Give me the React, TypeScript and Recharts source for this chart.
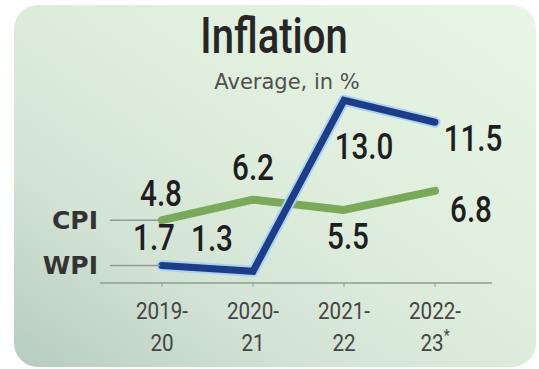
import React from "react";
import { LineChart, Line, XAxis, YAxis, LabelList } from "recharts";

// data
const categories = ["2019-20", "2020-21", "2021-22", "2022-23"];
const tickTop = ["2019-", "2020-", "2021-", "2022-"];
const tickBottom = ["20", "21", "22", "23"];
const provisional = [false, false, false, true];
const cpi = [4.8, 6.2, 5.5, 6.8];
const wpi = [1.7, 1.3, 13.0, 11.5];

const data = categories.map((name, i) => ({ name, cpi: cpi[i], wpi: wpi[i] }));

// label offsets from each point (layout only)
const cpiLabelOffset = [
    [-1, -27],
    [0, -32],
    [4, 26],
    [36, 18],
];
const wpiLabelOffset = [
    [-8, -28],
    [-41, -33],
    [20, 46],
    [38, 16],
];

const GUIDE = "#8e9c92";

const valueLabel = (offsets: number[][]) => (props: any) => {
    const { x, y, value, index } = props;
    const [dx, dy] = offsets[index] || [0, 0];
    return (
        <text
            transform={`translate(${x + dx},${y + dy}) scale(0.8,1)`}
            textAnchor="middle"
            dominantBaseline="central"
            fontFamily="Roboto"
            fontWeight={500}
            fontSize={37}
            fill="#1e1e1e"
        >
            {value.toFixed(1)}
        </text>
    );
};

const seriesTag = (label: string) => (props: any) => {
    const { cx, cy, index } = props;
    if (index !== 0) return <g key={`d-${label}-${index}`} />;
    return (
        <g key={`d-${label}-${index}`}>
            <line x1={cx - 52} y1={cy} x2={cx - 2} y2={cy} stroke={GUIDE} strokeWidth={1.5} />
            <text
                x={cx - 64}
                y={cy}
                textAnchor="end"
                dominantBaseline="central"
                fontFamily="DejaVu Sans"
                fontWeight={700}
                fontSize={25}
                fill="#333"
            >
                {label}
            </text>
        </g>
    );
};

const YearTick = (props: any) => {
    const { x, y, payload } = props;
    const i = categories.indexOf(payload.value);
    return (
        <g transform={`translate(${x},${y}) scale(0.86,1)`}>
            <text x={0} y={30} textAnchor="middle" fontFamily="Roboto" fontSize={24} fill="#454545">
                {tickTop[i]}
            </text>
            <text x={0} y={62} textAnchor="middle" fontFamily="Roboto" fontSize={24} fill="#454545">
                {tickBottom[i]}
                {provisional[i] && (
                    <tspan fontSize={16} dy={-10}>
                        *
                    </tspan>
                )}
            </text>
        </g>
    );
};

export default function App() {
    return (
        <div style={{ position: "absolute", left: 0, top: 0, width: 539, height: 369, background: "#fff", overflow: "hidden" }}>
            {/* card */}
            <div
                style={{
                    position: "absolute",
                    left: 14,
                    top: 5,
                    width: 522,
                    height: 362,
                    borderRadius: 24,
                    background: "linear-gradient(35deg, #b6ccc0 0%, #d3e3d4 28%, #dfeedc 55%, #e7f6e5 100%)",
                }}
            />
            {/* title */}
            <svg width={539} height={100} style={{ position: "absolute", left: 0, top: 0 }}>
                <text
                    transform="translate(274,53) scale(0.8,1)"
                    textAnchor="middle"
                    fontFamily="Roboto"
                    fontWeight={500}
                    fontSize={50}
                    fill="#262626"
                >
                    Inflation
                </text>
                <text x={287} y={89} textAnchor="middle" fontFamily="DejaVu Sans" fontSize={21} fill="#505050">
                    Average, in %
                </text>
            </svg>
            <div style={{ position: "absolute", left: 0, top: 0 }}>
                <LineChart width={539} height={369} data={data} margin={{ top: 93, right: 47, bottom: 26, left: 100 }}>
                    <XAxis
                        dataKey="name"
                        scale="point"
                        padding={{ left: 62, right: 57 }}
                        height={60}
                        axisLine={{ stroke: GUIDE, strokeWidth: 1.5 }}
                        tickLine={{ stroke: GUIDE }}
                        tickSize={4}
                        tick={<YearTick />}
                        interval={0}
                    />
                    <YAxis hide width={0} domain={[0.5, 13.5]} />
                    <Line
                        dataKey="cpi"
                        stroke="#7aa95a"
                        strokeWidth={8}
                        strokeLinecap="round"
                        strokeLinejoin="round"
                        dot={seriesTag("CPI")}
                        activeDot={false}
                        isAnimationActive={false}
                    >
                        <LabelList dataKey="cpi" content={valueLabel(cpiLabelOffset)} />
                    </Line>
                    <Line
                        dataKey="wpi"
                        stroke="#a9d3ee"
                        strokeWidth={11}
                        strokeLinecap="round"
                        strokeLinejoin="round"
                        dot={false}
                        activeDot={false}
                        isAnimationActive={false}
                    />
                    <Line
                        dataKey="wpi"
                        stroke="#1d3d88"
                        strokeWidth={7}
                        strokeLinecap="round"
                        strokeLinejoin="miter"
                        dot={seriesTag("WPI")}
                        activeDot={false}
                        isAnimationActive={false}
                    >
                        <LabelList dataKey="wpi" content={valueLabel(wpiLabelOffset)} />
                    </Line>
                </LineChart>
            </div>
        </div>
    );
}
